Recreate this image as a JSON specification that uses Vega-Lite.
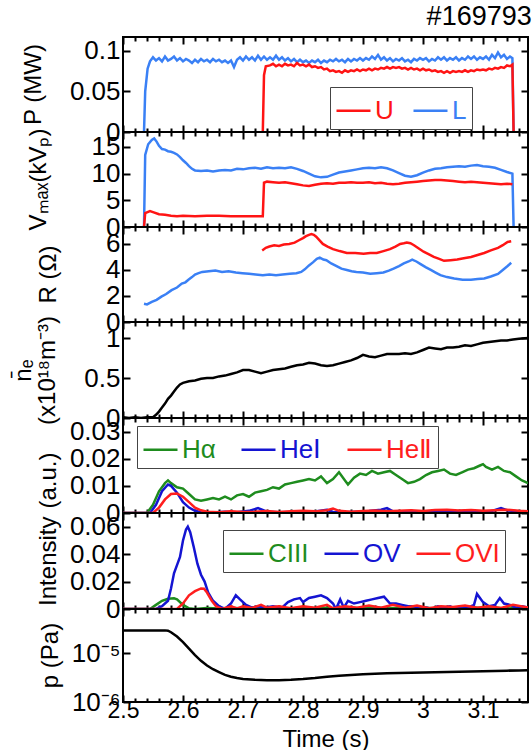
{
  "$schema": "https://vega.github.io/schema/vega-lite/v6.json",
  "background": "white",
  "padding": {"left": 10, "top": 3, "right": 0, "bottom": 3},
  "title": {"text": "#169793", "anchor": "end", "fontSize": 27, "fontWeight": "normal", "font": "Liberation Sans", "color": "black", "offset": 4},
  "config": {
    "view": {"stroke": "black", "strokeWidth": 2},
    "concat": {"spacing": 0},
    "axis": {"domain": false, "grid": false, "tickColor": "black", "tickWidth": 2, "labelFont": "Liberation Sans", "labelFontSize": 26, "labelColor": "black", "titleFont": "Liberation Sans", "titleFontSize": 24, "titleFontWeight": "normal", "titleColor": "black", "labelFlush": false, "labelOverlap": false, "format": "~g"},
    "legend": {"labelFont": "Liberation Sans", "labelFontSize": 26}
  },
  "datasets": {
    "p1": [
      {"t":2.535,"v":0,"s":"L"},{"t":2.537,"v":0.05,"s":"L"},{"t":2.541,"v":0.078,"s":"L"},{"t":2.545,"v":0.087,"s":"L"},{"t":2.55,"v":0.092,"s":"L"},{"t":2.555,"v":0.088,"s":"L"},{"t":2.56,"v":0.091,"s":"L"},{"t":2.565,"v":0.087,"s":"L"},{"t":2.57,"v":0.093,"s":"L"},{"t":2.575,"v":0.088,"s":"L"},{"t":2.58,"v":0.09,"s":"L"},{"t":2.585,"v":0.093,"s":"L"},{"t":2.59,"v":0.088,"s":"L"},{"t":2.595,"v":0.091,"s":"L"},{"t":2.6,"v":0.087,"s":"L"},{"t":2.605,"v":0.09,"s":"L"},{"t":2.61,"v":0.088,"s":"L"},{"t":2.615,"v":0.085,"s":"L"},{"t":2.62,"v":0.089,"s":"L"},{"t":2.625,"v":0.086,"s":"L"},{"t":2.63,"v":0.09,"s":"L"},{"t":2.635,"v":0.087,"s":"L"},{"t":2.64,"v":0.089,"s":"L"},{"t":2.645,"v":0.086,"s":"L"},{"t":2.65,"v":0.09,"s":"L"},{"t":2.655,"v":0.087,"s":"L"},{"t":2.66,"v":0.089,"s":"L"},{"t":2.665,"v":0.086,"s":"L"},{"t":2.67,"v":0.088,"s":"L"},{"t":2.675,"v":0.085,"s":"L"},{"t":2.68,"v":0.088,"s":"L"},{"t":2.685,"v":0.08,"s":"L"},{"t":2.69,"v":0.089,"s":"L"},{"t":2.695,"v":0.092,"s":"L"},{"t":2.7,"v":0.088,"s":"L"},{"t":2.705,"v":0.093,"s":"L"},{"t":2.71,"v":0.089,"s":"L"},{"t":2.715,"v":0.092,"s":"L"},{"t":2.72,"v":0.088,"s":"L"},{"t":2.725,"v":0.094,"s":"L"},{"t":2.73,"v":0.089,"s":"L"},{"t":2.735,"v":0.093,"s":"L"},{"t":2.74,"v":0.089,"s":"L"},{"t":2.745,"v":0.092,"s":"L"},{"t":2.75,"v":0.089,"s":"L"},{"t":2.755,"v":0.094,"s":"L"},{"t":2.76,"v":0.089,"s":"L"},{"t":2.765,"v":0.092,"s":"L"},{"t":2.77,"v":0.088,"s":"L"},{"t":2.775,"v":0.091,"s":"L"},{"t":2.78,"v":0.087,"s":"L"},{"t":2.785,"v":0.09,"s":"L"},{"t":2.79,"v":0.086,"s":"L"},{"t":2.795,"v":0.089,"s":"L"},{"t":2.8,"v":0.086,"s":"L"},{"t":2.805,"v":0.088,"s":"L"},{"t":2.81,"v":0.085,"s":"L"},{"t":2.815,"v":0.088,"s":"L"},{"t":2.82,"v":0.086,"s":"L"},{"t":2.825,"v":0.089,"s":"L"},{"t":2.83,"v":0.085,"s":"L"},{"t":2.835,"v":0.088,"s":"L"},{"t":2.84,"v":0.086,"s":"L"},{"t":2.845,"v":0.089,"s":"L"},{"t":2.85,"v":0.087,"s":"L"},{"t":2.855,"v":0.09,"s":"L"},{"t":2.86,"v":0.087,"s":"L"},{"t":2.865,"v":0.089,"s":"L"},{"t":2.87,"v":0.086,"s":"L"},{"t":2.875,"v":0.09,"s":"L"},{"t":2.88,"v":0.087,"s":"L"},{"t":2.885,"v":0.09,"s":"L"},{"t":2.89,"v":0.088,"s":"L"},{"t":2.895,"v":0.091,"s":"L"},{"t":2.9,"v":0.088,"s":"L"},{"t":2.905,"v":0.091,"s":"L"},{"t":2.91,"v":0.089,"s":"L"},{"t":2.915,"v":0.093,"s":"L"},{"t":2.92,"v":0.09,"s":"L"},{"t":2.925,"v":0.095,"s":"L"},{"t":2.93,"v":0.089,"s":"L"},{"t":2.935,"v":0.092,"s":"L"},{"t":2.94,"v":0.088,"s":"L"},{"t":2.945,"v":0.091,"s":"L"},{"t":2.95,"v":0.087,"s":"L"},{"t":2.955,"v":0.09,"s":"L"},{"t":2.96,"v":0.088,"s":"L"},{"t":2.965,"v":0.091,"s":"L"},{"t":2.97,"v":0.087,"s":"L"},{"t":2.975,"v":0.089,"s":"L"},{"t":2.98,"v":0.086,"s":"L"},{"t":2.985,"v":0.09,"s":"L"},{"t":2.99,"v":0.088,"s":"L"},{"t":2.995,"v":0.091,"s":"L"},{"t":3.0,"v":0.089,"s":"L"},{"t":3.005,"v":0.091,"s":"L"},{"t":3.01,"v":0.087,"s":"L"},{"t":3.015,"v":0.09,"s":"L"},{"t":3.02,"v":0.088,"s":"L"},{"t":3.025,"v":0.092,"s":"L"},{"t":3.03,"v":0.089,"s":"L"},{"t":3.035,"v":0.092,"s":"L"},{"t":3.04,"v":0.088,"s":"L"},{"t":3.045,"v":0.091,"s":"L"},{"t":3.05,"v":0.089,"s":"L"},{"t":3.055,"v":0.092,"s":"L"},{"t":3.06,"v":0.088,"s":"L"},{"t":3.065,"v":0.091,"s":"L"},{"t":3.07,"v":0.089,"s":"L"},{"t":3.075,"v":0.093,"s":"L"},{"t":3.08,"v":0.09,"s":"L"},{"t":3.085,"v":0.093,"s":"L"},{"t":3.09,"v":0.089,"s":"L"},{"t":3.095,"v":0.092,"s":"L"},{"t":3.1,"v":0.09,"s":"L"},{"t":3.105,"v":0.093,"s":"L"},{"t":3.11,"v":0.089,"s":"L"},{"t":3.115,"v":0.095,"s":"L"},{"t":3.12,"v":0.091,"s":"L"},{"t":3.125,"v":0.098,"s":"L"},{"t":3.13,"v":0.092,"s":"L"},{"t":3.135,"v":0.095,"s":"L"},{"t":3.14,"v":0.09,"s":"L"},{"t":3.145,"v":0.093,"s":"L"},{"t":3.149,"v":0.091,"s":"L"},{"t":3.151,"v":0,"s":"L"},
      {"t":2.733,"v":0,"s":"U"},{"t":2.735,"v":0.07,"s":"U"},{"t":2.738,"v":0.081,"s":"U"},{"t":2.745,"v":0.082,"s":"U"},{"t":2.75,"v":0.084,"s":"U"},{"t":2.755,"v":0.081,"s":"U"},{"t":2.76,"v":0.083,"s":"U"},{"t":2.765,"v":0.081,"s":"U"},{"t":2.77,"v":0.084,"s":"U"},{"t":2.775,"v":0.082,"s":"U"},{"t":2.78,"v":0.083,"s":"U"},{"t":2.785,"v":0.081,"s":"U"},{"t":2.79,"v":0.085,"s":"U"},{"t":2.795,"v":0.082,"s":"U"},{"t":2.8,"v":0.083,"s":"U"},{"t":2.805,"v":0.081,"s":"U"},{"t":2.81,"v":0.083,"s":"U"},{"t":2.815,"v":0.08,"s":"U"},{"t":2.82,"v":0.081,"s":"U"},{"t":2.825,"v":0.079,"s":"U"},{"t":2.83,"v":0.08,"s":"U"},{"t":2.835,"v":0.077,"s":"U"},{"t":2.84,"v":0.078,"s":"U"},{"t":2.845,"v":0.075,"s":"U"},{"t":2.85,"v":0.076,"s":"U"},{"t":2.855,"v":0.074,"s":"U"},{"t":2.86,"v":0.075,"s":"U"},{"t":2.865,"v":0.073,"s":"U"},{"t":2.87,"v":0.076,"s":"U"},{"t":2.875,"v":0.074,"s":"U"},{"t":2.88,"v":0.076,"s":"U"},{"t":2.885,"v":0.075,"s":"U"},{"t":2.89,"v":0.077,"s":"U"},{"t":2.895,"v":0.075,"s":"U"},{"t":2.9,"v":0.077,"s":"U"},{"t":2.905,"v":0.076,"s":"U"},{"t":2.91,"v":0.078,"s":"U"},{"t":2.915,"v":0.076,"s":"U"},{"t":2.92,"v":0.078,"s":"U"},{"t":2.925,"v":0.077,"s":"U"},{"t":2.93,"v":0.079,"s":"U"},{"t":2.935,"v":0.078,"s":"U"},{"t":2.94,"v":0.08,"s":"U"},{"t":2.945,"v":0.078,"s":"U"},{"t":2.95,"v":0.08,"s":"U"},{"t":2.955,"v":0.079,"s":"U"},{"t":2.96,"v":0.08,"s":"U"},{"t":2.965,"v":0.078,"s":"U"},{"t":2.97,"v":0.079,"s":"U"},{"t":2.975,"v":0.077,"s":"U"},{"t":2.98,"v":0.079,"s":"U"},{"t":2.985,"v":0.077,"s":"U"},{"t":2.99,"v":0.078,"s":"U"},{"t":2.995,"v":0.076,"s":"U"},{"t":3.0,"v":0.078,"s":"U"},{"t":3.005,"v":0.076,"s":"U"},{"t":3.01,"v":0.077,"s":"U"},{"t":3.015,"v":0.075,"s":"U"},{"t":3.02,"v":0.076,"s":"U"},{"t":3.025,"v":0.074,"s":"U"},{"t":3.03,"v":0.075,"s":"U"},{"t":3.035,"v":0.073,"s":"U"},{"t":3.04,"v":0.075,"s":"U"},{"t":3.045,"v":0.073,"s":"U"},{"t":3.05,"v":0.075,"s":"U"},{"t":3.055,"v":0.074,"s":"U"},{"t":3.06,"v":0.075,"s":"U"},{"t":3.065,"v":0.074,"s":"U"},{"t":3.07,"v":0.076,"s":"U"},{"t":3.075,"v":0.074,"s":"U"},{"t":3.08,"v":0.076,"s":"U"},{"t":3.085,"v":0.075,"s":"U"},{"t":3.09,"v":0.077,"s":"U"},{"t":3.095,"v":0.076,"s":"U"},{"t":3.1,"v":0.077,"s":"U"},{"t":3.105,"v":0.076,"s":"U"},{"t":3.11,"v":0.078,"s":"U"},{"t":3.115,"v":0.077,"s":"U"},{"t":3.12,"v":0.079,"s":"U"},{"t":3.125,"v":0.078,"s":"U"},{"t":3.13,"v":0.08,"s":"U"},{"t":3.135,"v":0.079,"s":"U"},{"t":3.14,"v":0.082,"s":"U"},{"t":3.145,"v":0.081,"s":"U"},{"t":3.149,"v":0.083,"s":"U"},{"t":3.151,"v":0,"s":"U"}
    ],
    "p2": [
      {"t":2.535,"v":0,"s":"L"},{"t":2.537,"v":13.5,"s":"L"},{"t":2.542,"v":15.5,"s":"L"},{"t":2.548,"v":16.3,"s":"L"},{"t":2.552,"v":16.6,"s":"L"},{"t":2.556,"v":16,"s":"L"},{"t":2.56,"v":15.2,"s":"L"},{"t":2.565,"v":14.6,"s":"L"},{"t":2.57,"v":14.5,"s":"L"},{"t":2.575,"v":14.2,"s":"L"},{"t":2.58,"v":14.1,"s":"L"},{"t":2.585,"v":13.9,"s":"L"},{"t":2.59,"v":13.6,"s":"L"},{"t":2.595,"v":13.1,"s":"L"},{"t":2.6,"v":12.5,"s":"L"},{"t":2.605,"v":12,"s":"L"},{"t":2.61,"v":11.4,"s":"L"},{"t":2.615,"v":10.9,"s":"L"},{"t":2.62,"v":10.6,"s":"L"},{"t":2.63,"v":10.5,"s":"L"},{"t":2.64,"v":10.6,"s":"L"},{"t":2.65,"v":10.4,"s":"L"},{"t":2.66,"v":10.6,"s":"L"},{"t":2.67,"v":10.7,"s":"L"},{"t":2.68,"v":10.6,"s":"L"},{"t":2.69,"v":10.9,"s":"L"},{"t":2.7,"v":10.8,"s":"L"},{"t":2.71,"v":11,"s":"L"},{"t":2.72,"v":11.1,"s":"L"},{"t":2.73,"v":10.9,"s":"L"},{"t":2.74,"v":11.2,"s":"L"},{"t":2.75,"v":11,"s":"L"},{"t":2.76,"v":11.1,"s":"L"},{"t":2.77,"v":11,"s":"L"},{"t":2.78,"v":11.2,"s":"L"},{"t":2.79,"v":10.9,"s":"L"},{"t":2.8,"v":10.5,"s":"L"},{"t":2.81,"v":10,"s":"L"},{"t":2.82,"v":9.5,"s":"L"},{"t":2.83,"v":9.3,"s":"L"},{"t":2.84,"v":9.4,"s":"L"},{"t":2.85,"v":9.8,"s":"L"},{"t":2.86,"v":10.2,"s":"L"},{"t":2.87,"v":10.4,"s":"L"},{"t":2.88,"v":10.6,"s":"L"},{"t":2.89,"v":10.8,"s":"L"},{"t":2.9,"v":11,"s":"L"},{"t":2.91,"v":11.1,"s":"L"},{"t":2.92,"v":11,"s":"L"},{"t":2.93,"v":11.2,"s":"L"},{"t":2.94,"v":11,"s":"L"},{"t":2.95,"v":10.6,"s":"L"},{"t":2.96,"v":10.1,"s":"L"},{"t":2.97,"v":9.6,"s":"L"},{"t":2.98,"v":9.4,"s":"L"},{"t":2.99,"v":9.7,"s":"L"},{"t":3.0,"v":10.2,"s":"L"},{"t":3.01,"v":10.6,"s":"L"},{"t":3.02,"v":10.9,"s":"L"},{"t":3.03,"v":11,"s":"L"},{"t":3.04,"v":11.2,"s":"L"},{"t":3.05,"v":11.3,"s":"L"},{"t":3.06,"v":11.4,"s":"L"},{"t":3.07,"v":11.3,"s":"L"},{"t":3.08,"v":11.5,"s":"L"},{"t":3.09,"v":11.6,"s":"L"},{"t":3.1,"v":11.4,"s":"L"},{"t":3.11,"v":11.3,"s":"L"},{"t":3.12,"v":11.1,"s":"L"},{"t":3.13,"v":10.7,"s":"L"},{"t":3.14,"v":10.3,"s":"L"},{"t":3.149,"v":10,"s":"L"},{"t":3.151,"v":0,"s":"L"},
      {"t":2.535,"v":0,"s":"U"},{"t":2.537,"v":2.6,"s":"U"},{"t":2.545,"v":3,"s":"U"},{"t":2.55,"v":2.8,"s":"U"},{"t":2.56,"v":2.4,"s":"U"},{"t":2.57,"v":2.3,"s":"U"},{"t":2.58,"v":2.1,"s":"U"},{"t":2.59,"v":2.0,"s":"U"},{"t":2.6,"v":2.1,"s":"U"},{"t":2.62,"v":2.0,"s":"U"},{"t":2.64,"v":2.1,"s":"U"},{"t":2.66,"v":2.1,"s":"U"},{"t":2.68,"v":2.0,"s":"U"},{"t":2.7,"v":2.0,"s":"U"},{"t":2.72,"v":2.0,"s":"U"},{"t":2.733,"v":2.0,"s":"U"},{"t":2.735,"v":8.3,"s":"U"},{"t":2.74,"v":8.5,"s":"U"},{"t":2.75,"v":8.4,"s":"U"},{"t":2.76,"v":8.3,"s":"U"},{"t":2.77,"v":8.4,"s":"U"},{"t":2.78,"v":8.2,"s":"U"},{"t":2.79,"v":8.0,"s":"U"},{"t":2.8,"v":7.8,"s":"U"},{"t":2.81,"v":7.7,"s":"U"},{"t":2.82,"v":7.9,"s":"U"},{"t":2.83,"v":8.1,"s":"U"},{"t":2.84,"v":8.2,"s":"U"},{"t":2.85,"v":8.1,"s":"U"},{"t":2.86,"v":8.3,"s":"U"},{"t":2.87,"v":8.3,"s":"U"},{"t":2.88,"v":8.4,"s":"U"},{"t":2.89,"v":8.3,"s":"U"},{"t":2.9,"v":8.3,"s":"U"},{"t":2.91,"v":8.4,"s":"U"},{"t":2.92,"v":8.2,"s":"U"},{"t":2.93,"v":8.3,"s":"U"},{"t":2.94,"v":8.1,"s":"U"},{"t":2.95,"v":8.0,"s":"U"},{"t":2.96,"v":8.1,"s":"U"},{"t":2.97,"v":8.3,"s":"U"},{"t":2.98,"v":8.4,"s":"U"},{"t":2.99,"v":8.5,"s":"U"},{"t":3.0,"v":8.6,"s":"U"},{"t":3.01,"v":8.7,"s":"U"},{"t":3.02,"v":8.8,"s":"U"},{"t":3.03,"v":8.8,"s":"U"},{"t":3.04,"v":8.7,"s":"U"},{"t":3.05,"v":8.6,"s":"U"},{"t":3.06,"v":8.5,"s":"U"},{"t":3.07,"v":8.4,"s":"U"},{"t":3.08,"v":8.5,"s":"U"},{"t":3.09,"v":8.4,"s":"U"},{"t":3.1,"v":8.3,"s":"U"},{"t":3.11,"v":8.2,"s":"U"},{"t":3.12,"v":8.1,"s":"U"},{"t":3.13,"v":8.0,"s":"U"},{"t":3.14,"v":8.1,"s":"U"},{"t":3.149,"v":8.0,"s":"U"}
    ],
    "p3": [
      {"t":2.535,"v":1.4,"s":"L"},{"t":2.54,"v":1.35,"s":"L"},{"t":2.548,"v":1.55,"s":"L"},{"t":2.556,"v":1.7,"s":"L"},{"t":2.564,"v":1.95,"s":"L"},{"t":2.572,"v":2.15,"s":"L"},{"t":2.581,"v":2.45,"s":"L"},{"t":2.59,"v":2.65,"s":"L"},{"t":2.598,"v":2.95,"s":"L"},{"t":2.604,"v":3.05,"s":"L"},{"t":2.609,"v":3.25,"s":"L"},{"t":2.615,"v":3.45,"s":"L"},{"t":2.62,"v":3.65,"s":"L"},{"t":2.626,"v":3.75,"s":"L"},{"t":2.632,"v":3.85,"s":"L"},{"t":2.643,"v":3.9,"s":"L"},{"t":2.654,"v":3.95,"s":"L"},{"t":2.665,"v":3.85,"s":"L"},{"t":2.676,"v":3.9,"s":"L"},{"t":2.688,"v":3.8,"s":"L"},{"t":2.699,"v":3.75,"s":"L"},{"t":2.71,"v":3.7,"s":"L"},{"t":2.721,"v":3.65,"s":"L"},{"t":2.733,"v":3.6,"s":"L"},{"t":2.744,"v":3.65,"s":"L"},{"t":2.755,"v":3.6,"s":"L"},{"t":2.766,"v":3.65,"s":"L"},{"t":2.778,"v":3.7,"s":"L"},{"t":2.789,"v":3.75,"s":"L"},{"t":2.797,"v":3.85,"s":"L"},{"t":2.803,"v":4.05,"s":"L"},{"t":2.81,"v":4.35,"s":"L"},{"t":2.817,"v":4.6,"s":"L"},{"t":2.823,"v":4.85,"s":"L"},{"t":2.828,"v":4.95,"s":"L"},{"t":2.834,"v":4.8,"s":"L"},{"t":2.839,"v":4.75,"s":"L"},{"t":2.847,"v":4.5,"s":"L"},{"t":2.856,"v":4.3,"s":"L"},{"t":2.864,"v":4.1,"s":"L"},{"t":2.873,"v":4.0,"s":"L"},{"t":2.881,"v":3.9,"s":"L"},{"t":2.889,"v":3.85,"s":"L"},{"t":2.9,"v":3.8,"s":"L"},{"t":2.912,"v":3.7,"s":"L"},{"t":2.923,"v":3.75,"s":"L"},{"t":2.934,"v":3.8,"s":"L"},{"t":2.943,"v":3.95,"s":"L"},{"t":2.951,"v":4.1,"s":"L"},{"t":2.96,"v":4.3,"s":"L"},{"t":2.968,"v":4.5,"s":"L"},{"t":2.976,"v":4.65,"s":"L"},{"t":2.982,"v":4.8,"s":"L"},{"t":2.989,"v":4.65,"s":"L"},{"t":2.996,"v":4.45,"s":"L"},{"t":3.005,"v":4.2,"s":"L"},{"t":3.013,"v":4.0,"s":"L"},{"t":3.021,"v":3.8,"s":"L"},{"t":3.029,"v":3.6,"s":"L"},{"t":3.04,"v":3.45,"s":"L"},{"t":3.052,"v":3.35,"s":"L"},{"t":3.066,"v":3.25,"s":"L"},{"t":3.08,"v":3.25,"s":"L"},{"t":3.091,"v":3.3,"s":"L"},{"t":3.102,"v":3.35,"s":"L"},{"t":3.113,"v":3.5,"s":"L"},{"t":3.125,"v":3.7,"s":"L"},{"t":3.133,"v":4.0,"s":"L"},{"t":3.141,"v":4.3,"s":"L"},{"t":3.147,"v":4.55,"s":"L"},
      {"t":2.732,"v":5.5,"s":"U"},{"t":2.738,"v":5.7,"s":"U"},{"t":2.744,"v":5.8,"s":"U"},{"t":2.752,"v":5.9,"s":"U"},{"t":2.76,"v":5.85,"s":"U"},{"t":2.768,"v":5.95,"s":"U"},{"t":2.777,"v":6.0,"s":"U"},{"t":2.786,"v":6.1,"s":"U"},{"t":2.794,"v":6.3,"s":"U"},{"t":2.8,"v":6.45,"s":"U"},{"t":2.805,"v":6.6,"s":"U"},{"t":2.81,"v":6.7,"s":"U"},{"t":2.814,"v":6.75,"s":"U"},{"t":2.818,"v":6.7,"s":"U"},{"t":2.822,"v":6.55,"s":"U"},{"t":2.828,"v":6.25,"s":"U"},{"t":2.833,"v":6.0,"s":"U"},{"t":2.841,"v":5.8,"s":"U"},{"t":2.85,"v":5.6,"s":"U"},{"t":2.861,"v":5.45,"s":"U"},{"t":2.873,"v":5.3,"s":"U"},{"t":2.887,"v":5.3,"s":"U"},{"t":2.901,"v":5.25,"s":"U"},{"t":2.912,"v":5.3,"s":"U"},{"t":2.923,"v":5.3,"s":"U"},{"t":2.934,"v":5.45,"s":"U"},{"t":2.945,"v":5.6,"s":"U"},{"t":2.954,"v":5.8,"s":"U"},{"t":2.962,"v":6.0,"s":"U"},{"t":2.968,"v":6.05,"s":"U"},{"t":2.973,"v":6.1,"s":"U"},{"t":2.979,"v":6.05,"s":"U"},{"t":2.985,"v":5.9,"s":"U"},{"t":2.993,"v":5.65,"s":"U"},{"t":3.001,"v":5.4,"s":"U"},{"t":3.01,"v":5.2,"s":"U"},{"t":3.018,"v":5.0,"s":"U"},{"t":3.027,"v":4.85,"s":"U"},{"t":3.035,"v":4.7,"s":"U"},{"t":3.046,"v":4.75,"s":"U"},{"t":3.057,"v":4.8,"s":"U"},{"t":3.068,"v":4.9,"s":"U"},{"t":3.08,"v":5.0,"s":"U"},{"t":3.091,"v":5.15,"s":"U"},{"t":3.102,"v":5.3,"s":"U"},{"t":3.113,"v":5.5,"s":"U"},{"t":3.125,"v":5.7,"s":"U"},{"t":3.133,"v":5.9,"s":"U"},{"t":3.141,"v":6.15,"s":"U"},{"t":3.147,"v":6.2,"s":"U"}
    ],
    "p4": [
      {"t":2.5,"v":0.01,"s":"ne"},{"t":2.51,"v":0.0,"s":"ne"},{"t":2.52,"v":0.01,"s":"ne"},{"t":2.53,"v":0.0,"s":"ne"},{"t":2.54,"v":0.01,"s":"ne"},{"t":2.55,"v":0.01,"s":"ne"},{"t":2.555,"v":0.04,"s":"ne"},{"t":2.56,"v":0.08,"s":"ne"},{"t":2.565,"v":0.13,"s":"ne"},{"t":2.57,"v":0.18,"s":"ne"},{"t":2.575,"v":0.24,"s":"ne"},{"t":2.58,"v":0.28,"s":"ne"},{"t":2.585,"v":0.33,"s":"ne"},{"t":2.59,"v":0.38,"s":"ne"},{"t":2.595,"v":0.42,"s":"ne"},{"t":2.6,"v":0.44,"s":"ne"},{"t":2.61,"v":0.46,"s":"ne"},{"t":2.62,"v":0.47,"s":"ne"},{"t":2.63,"v":0.49,"s":"ne"},{"t":2.64,"v":0.5,"s":"ne"},{"t":2.65,"v":0.5,"s":"ne"},{"t":2.66,"v":0.52,"s":"ne"},{"t":2.67,"v":0.53,"s":"ne"},{"t":2.68,"v":0.55,"s":"ne"},{"t":2.69,"v":0.57,"s":"ne"},{"t":2.7,"v":0.6,"s":"ne"},{"t":2.71,"v":0.6,"s":"ne"},{"t":2.72,"v":0.58,"s":"ne"},{"t":2.73,"v":0.56,"s":"ne"},{"t":2.74,"v":0.58,"s":"ne"},{"t":2.75,"v":0.6,"s":"ne"},{"t":2.76,"v":0.61,"s":"ne"},{"t":2.77,"v":0.62,"s":"ne"},{"t":2.78,"v":0.64,"s":"ne"},{"t":2.79,"v":0.66,"s":"ne"},{"t":2.8,"v":0.67,"s":"ne"},{"t":2.81,"v":0.69,"s":"ne"},{"t":2.82,"v":0.68,"s":"ne"},{"t":2.83,"v":0.66,"s":"ne"},{"t":2.84,"v":0.65,"s":"ne"},{"t":2.85,"v":0.66,"s":"ne"},{"t":2.86,"v":0.68,"s":"ne"},{"t":2.87,"v":0.7,"s":"ne"},{"t":2.88,"v":0.72,"s":"ne"},{"t":2.89,"v":0.75,"s":"ne"},{"t":2.9,"v":0.79,"s":"ne"},{"t":2.91,"v":0.77,"s":"ne"},{"t":2.92,"v":0.76,"s":"ne"},{"t":2.93,"v":0.78,"s":"ne"},{"t":2.94,"v":0.8,"s":"ne"},{"t":2.95,"v":0.8,"s":"ne"},{"t":2.96,"v":0.8,"s":"ne"},{"t":2.97,"v":0.81,"s":"ne"},{"t":2.98,"v":0.8,"s":"ne"},{"t":2.99,"v":0.82,"s":"ne"},{"t":3.0,"v":0.85,"s":"ne"},{"t":3.01,"v":0.88,"s":"ne"},{"t":3.02,"v":0.87,"s":"ne"},{"t":3.03,"v":0.86,"s":"ne"},{"t":3.04,"v":0.88,"s":"ne"},{"t":3.05,"v":0.88,"s":"ne"},{"t":3.06,"v":0.89,"s":"ne"},{"t":3.07,"v":0.91,"s":"ne"},{"t":3.08,"v":0.9,"s":"ne"},{"t":3.09,"v":0.92,"s":"ne"},{"t":3.1,"v":0.94,"s":"ne"},{"t":3.11,"v":0.95,"s":"ne"},{"t":3.12,"v":0.96,"s":"ne"},{"t":3.13,"v":0.97,"s":"ne"},{"t":3.14,"v":0.97,"s":"ne"},{"t":3.15,"v":0.98,"s":"ne"},{"t":3.16,"v":0.99,"s":"ne"},{"t":3.175,"v":1.0,"s":"ne"}
    ],
    "p5": [
      {"t":2.5,"v":0,"s":"Hα"},{"t":2.54,"v":0,"s":"Hα"},{"t":2.55,"v":0.003,"s":"Hα"},{"t":2.56,"v":0.008,"s":"Hα"},{"t":2.57,"v":0.011,"s":"Hα"},{"t":2.575,"v":0.012,"s":"Hα"},{"t":2.58,"v":0.011,"s":"Hα"},{"t":2.59,"v":0.0095,"s":"Hα"},{"t":2.6,"v":0.009,"s":"Hα"},{"t":2.61,"v":0.007,"s":"Hα"},{"t":2.62,"v":0.005,"s":"Hα"},{"t":2.63,"v":0.0045,"s":"Hα"},{"t":2.64,"v":0.005,"s":"Hα"},{"t":2.65,"v":0.0055,"s":"Hα"},{"t":2.66,"v":0.005,"s":"Hα"},{"t":2.67,"v":0.006,"s":"Hα"},{"t":2.68,"v":0.005,"s":"Hα"},{"t":2.69,"v":0.0065,"s":"Hα"},{"t":2.7,"v":0.007,"s":"Hα"},{"t":2.71,"v":0.006,"s":"Hα"},{"t":2.72,"v":0.0075,"s":"Hα"},{"t":2.73,"v":0.008,"s":"Hα"},{"t":2.74,"v":0.0085,"s":"Hα"},{"t":2.75,"v":0.0095,"s":"Hα"},{"t":2.76,"v":0.009,"s":"Hα"},{"t":2.77,"v":0.0105,"s":"Hα"},{"t":2.78,"v":0.011,"s":"Hα"},{"t":2.79,"v":0.0115,"s":"Hα"},{"t":2.8,"v":0.012,"s":"Hα"},{"t":2.81,"v":0.0125,"s":"Hα"},{"t":2.82,"v":0.012,"s":"Hα"},{"t":2.83,"v":0.0135,"s":"Hα"},{"t":2.84,"v":0.011,"s":"Hα"},{"t":2.85,"v":0.0125,"s":"Hα"},{"t":2.86,"v":0.015,"s":"Hα"},{"t":2.87,"v":0.012,"s":"Hα"},{"t":2.875,"v":0.0105,"s":"Hα"},{"t":2.885,"v":0.013,"s":"Hα"},{"t":2.895,"v":0.0145,"s":"Hα"},{"t":2.905,"v":0.014,"s":"Hα"},{"t":2.915,"v":0.0155,"s":"Hα"},{"t":2.925,"v":0.0145,"s":"Hα"},{"t":2.935,"v":0.015,"s":"Hα"},{"t":2.945,"v":0.0155,"s":"Hα"},{"t":2.955,"v":0.014,"s":"Hα"},{"t":2.965,"v":0.0125,"s":"Hα"},{"t":2.975,"v":0.011,"s":"Hα"},{"t":2.985,"v":0.0115,"s":"Hα"},{"t":2.995,"v":0.0125,"s":"Hα"},{"t":3.005,"v":0.014,"s":"Hα"},{"t":3.015,"v":0.015,"s":"Hα"},{"t":3.025,"v":0.0155,"s":"Hα"},{"t":3.035,"v":0.016,"s":"Hα"},{"t":3.045,"v":0.0145,"s":"Hα"},{"t":3.055,"v":0.014,"s":"Hα"},{"t":3.065,"v":0.015,"s":"Hα"},{"t":3.075,"v":0.016,"s":"Hα"},{"t":3.085,"v":0.0165,"s":"Hα"},{"t":3.095,"v":0.0175,"s":"Hα"},{"t":3.1,"v":0.018,"s":"Hα"},{"t":3.105,"v":0.017,"s":"Hα"},{"t":3.115,"v":0.016,"s":"Hα"},{"t":3.125,"v":0.017,"s":"Hα"},{"t":3.135,"v":0.0155,"s":"Hα"},{"t":3.145,"v":0.015,"s":"Hα"},{"t":3.155,"v":0.0135,"s":"Hα"},{"t":3.165,"v":0.012,"s":"Hα"},{"t":3.175,"v":0.011,"s":"Hα"},
      {"t":2.5,"v":0,"s":"HeⅠ"},{"t":2.545,"v":0,"s":"HeⅠ"},{"t":2.555,"v":0.003,"s":"HeⅠ"},{"t":2.565,"v":0.008,"s":"HeⅠ"},{"t":2.575,"v":0.0105,"s":"HeⅠ"},{"t":2.58,"v":0.01,"s":"HeⅠ"},{"t":2.59,"v":0.0075,"s":"HeⅠ"},{"t":2.6,"v":0.004,"s":"HeⅠ"},{"t":2.61,"v":0.002,"s":"HeⅠ"},{"t":2.62,"v":0.0008,"s":"HeⅠ"},{"t":2.63,"v":0.0003,"s":"HeⅠ"},{"t":2.65,"v":0.0002,"s":"HeⅠ"},{"t":2.67,"v":0.0005,"s":"HeⅠ"},{"t":2.69,"v":0.0003,"s":"HeⅠ"},{"t":2.71,"v":0.0008,"s":"HeⅠ"},{"t":2.725,"v":0.0018,"s":"HeⅠ"},{"t":2.74,"v":0.0005,"s":"HeⅠ"},{"t":2.76,"v":0.0003,"s":"HeⅠ"},{"t":2.78,"v":0.0004,"s":"HeⅠ"},{"t":2.8,"v":0.0002,"s":"HeⅠ"},{"t":2.82,"v":0.0006,"s":"HeⅠ"},{"t":2.84,"v":0.0012,"s":"HeⅠ"},{"t":2.85,"v":0.0004,"s":"HeⅠ"},{"t":2.87,"v":0.0003,"s":"HeⅠ"},{"t":2.89,"v":0.0005,"s":"HeⅠ"},{"t":2.91,"v":0.0007,"s":"HeⅠ"},{"t":2.93,"v":0.0012,"s":"HeⅠ"},{"t":2.94,"v":0.0018,"s":"HeⅠ"},{"t":2.95,"v":0.0006,"s":"HeⅠ"},{"t":2.97,"v":0.0003,"s":"HeⅠ"},{"t":2.99,"v":0.0005,"s":"HeⅠ"},{"t":3.01,"v":0.0004,"s":"HeⅠ"},{"t":3.03,"v":0.0007,"s":"HeⅠ"},{"t":3.05,"v":0.0005,"s":"HeⅠ"},{"t":3.07,"v":0.0008,"s":"HeⅠ"},{"t":3.09,"v":0.0006,"s":"HeⅠ"},{"t":3.11,"v":0.0004,"s":"HeⅠ"},{"t":3.13,"v":0.0018,"s":"HeⅠ"},{"t":3.14,"v":0.001,"s":"HeⅠ"},{"t":3.16,"v":0.0006,"s":"HeⅠ"},{"t":3.175,"v":0.0004,"s":"HeⅠ"},
      {"t":2.5,"v":0,"s":"HeⅡ"},{"t":2.55,"v":0,"s":"HeⅡ"},{"t":2.56,"v":0.002,"s":"HeⅡ"},{"t":2.57,"v":0.005,"s":"HeⅡ"},{"t":2.58,"v":0.007,"s":"HeⅡ"},{"t":2.59,"v":0.0072,"s":"HeⅡ"},{"t":2.6,"v":0.006,"s":"HeⅡ"},{"t":2.61,"v":0.004,"s":"HeⅡ"},{"t":2.62,"v":0.002,"s":"HeⅡ"},{"t":2.63,"v":0.001,"s":"HeⅡ"},{"t":2.64,"v":0.0005,"s":"HeⅡ"},{"t":2.66,"v":0.0003,"s":"HeⅡ"},{"t":2.68,"v":0.0006,"s":"HeⅡ"},{"t":2.7,"v":0.0004,"s":"HeⅡ"},{"t":2.72,"v":0.0005,"s":"HeⅡ"},{"t":2.74,"v":0.0007,"s":"HeⅡ"},{"t":2.76,"v":0.0004,"s":"HeⅡ"},{"t":2.78,"v":0.0006,"s":"HeⅡ"},{"t":2.8,"v":0.0008,"s":"HeⅡ"},{"t":2.82,"v":0.0006,"s":"HeⅡ"},{"t":2.84,"v":0.001,"s":"HeⅡ"},{"t":2.85,"v":0.0016,"s":"HeⅡ"},{"t":2.86,"v":0.0008,"s":"HeⅡ"},{"t":2.88,"v":0.0005,"s":"HeⅡ"},{"t":2.9,"v":0.0007,"s":"HeⅡ"},{"t":2.92,"v":0.0009,"s":"HeⅡ"},{"t":2.94,"v":0.0006,"s":"HeⅡ"},{"t":2.96,"v":0.0008,"s":"HeⅡ"},{"t":2.98,"v":0.001,"s":"HeⅡ"},{"t":3.0,"v":0.0007,"s":"HeⅡ"},{"t":3.02,"v":0.0011,"s":"HeⅡ"},{"t":3.04,"v":0.0012,"s":"HeⅡ"},{"t":3.06,"v":0.0009,"s":"HeⅡ"},{"t":3.08,"v":0.0011,"s":"HeⅡ"},{"t":3.1,"v":0.0008,"s":"HeⅡ"},{"t":3.12,"v":0.001,"s":"HeⅡ"},{"t":3.14,"v":0.0012,"s":"HeⅡ"},{"t":3.16,"v":0.0008,"s":"HeⅡ"},{"t":3.175,"v":0.0006,"s":"HeⅡ"}
    ],
    "p6": [
      {"t":2.5,"v":0,"s":"CIII"},{"t":2.545,"v":0,"s":"CIII"},{"t":2.555,"v":0.003,"s":"CIII"},{"t":2.565,"v":0.006,"s":"CIII"},{"t":2.575,"v":0.0075,"s":"CIII"},{"t":2.585,"v":0.0078,"s":"CIII"},{"t":2.59,"v":0.007,"s":"CIII"},{"t":2.6,"v":0.003,"s":"CIII"},{"t":2.61,"v":0.0005,"s":"CIII"},{"t":2.62,"v":0,"s":"CIII"},{"t":2.64,"v":0.0008,"s":"CIII"},{"t":2.66,"v":0.0003,"s":"CIII"},{"t":2.68,"v":0.001,"s":"CIII"},{"t":2.7,"v":0.0004,"s":"CIII"},{"t":2.72,"v":0.0012,"s":"CIII"},{"t":2.74,"v":0.0005,"s":"CIII"},{"t":2.76,"v":0.0008,"s":"CIII"},{"t":2.78,"v":0.0003,"s":"CIII"},{"t":2.8,"v":0.0012,"s":"CIII"},{"t":2.82,"v":0.0005,"s":"CIII"},{"t":2.84,"v":0.0009,"s":"CIII"},{"t":2.86,"v":0.0004,"s":"CIII"},{"t":2.88,"v":0.001,"s":"CIII"},{"t":2.9,"v":0.0006,"s":"CIII"},{"t":2.92,"v":0.0012,"s":"CIII"},{"t":2.94,"v":0.0004,"s":"CIII"},{"t":2.96,"v":0.0009,"s":"CIII"},{"t":2.98,"v":0.0005,"s":"CIII"},{"t":3.0,"v":0.0011,"s":"CIII"},{"t":3.02,"v":0.0004,"s":"CIII"},{"t":3.04,"v":0.0008,"s":"CIII"},{"t":3.06,"v":0.0005,"s":"CIII"},{"t":3.08,"v":0.0012,"s":"CIII"},{"t":3.1,"v":0.0006,"s":"CIII"},{"t":3.12,"v":0.0009,"s":"CIII"},{"t":3.14,"v":0.0004,"s":"CIII"},{"t":3.16,"v":0.001,"s":"CIII"},{"t":3.175,"v":0.0006,"s":"CIII"},
      {"t":2.5,"v":0,"s":"OV"},{"t":2.555,"v":0,"s":"OV"},{"t":2.565,"v":0.002,"s":"OV"},{"t":2.575,"v":0.006,"s":"OV"},{"t":2.58,"v":0.015,"s":"OV"},{"t":2.585,"v":0.026,"s":"OV"},{"t":2.59,"v":0.032,"s":"OV"},{"t":2.595,"v":0.038,"s":"OV"},{"t":2.6,"v":0.05,"s":"OV"},{"t":2.605,"v":0.058,"s":"OV"},{"t":2.608,"v":0.06,"s":"OV"},{"t":2.612,"v":0.056,"s":"OV"},{"t":2.618,"v":0.045,"s":"OV"},{"t":2.624,"v":0.033,"s":"OV"},{"t":2.63,"v":0.025,"s":"OV"},{"t":2.636,"v":0.02,"s":"OV"},{"t":2.642,"v":0.012,"s":"OV"},{"t":2.65,"v":0.006,"s":"OV"},{"t":2.66,"v":0.002,"s":"OV"},{"t":2.67,"v":0.0,"s":"OV"},{"t":2.68,"v":0.004,"s":"OV"},{"t":2.688,"v":0.01,"s":"OV"},{"t":2.695,"v":0.007,"s":"OV"},{"t":2.705,"v":0.003,"s":"OV"},{"t":2.715,"v":0.001,"s":"OV"},{"t":2.725,"v":0.002,"s":"OV"},{"t":2.735,"v":0.001,"s":"OV"},{"t":2.75,"v":0.002,"s":"OV"},{"t":2.765,"v":0.001,"s":"OV"},{"t":2.775,"v":0.005,"s":"OV"},{"t":2.785,"v":0.007,"s":"OV"},{"t":2.795,"v":0.008,"s":"OV"},{"t":2.8,"v":0.005,"s":"OV"},{"t":2.81,"v":0.008,"s":"OV"},{"t":2.82,"v":0.009,"s":"OV"},{"t":2.83,"v":0.01,"s":"OV"},{"t":2.84,"v":0.008,"s":"OV"},{"t":2.85,"v":0.004,"s":"OV"},{"t":2.855,"v":0.0,"s":"OV"},{"t":2.862,"v":0.007,"s":"OV"},{"t":2.868,"v":0.001,"s":"OV"},{"t":2.875,"v":0.006,"s":"OV"},{"t":2.885,"v":0.004,"s":"OV"},{"t":2.895,"v":0.005,"s":"OV"},{"t":2.905,"v":0.006,"s":"OV"},{"t":2.915,"v":0.007,"s":"OV"},{"t":2.925,"v":0.008,"s":"OV"},{"t":2.935,"v":0.009,"s":"OV"},{"t":2.945,"v":0.004,"s":"OV"},{"t":2.955,"v":0.004,"s":"OV"},{"t":2.965,"v":0.003,"s":"OV"},{"t":2.975,"v":0.002,"s":"OV"},{"t":2.985,"v":0.002,"s":"OV"},{"t":2.995,"v":0.0,"s":"OV"},{"t":3.005,"v":0.001,"s":"OV"},{"t":3.015,"v":0.0,"s":"OV"},{"t":3.025,"v":0.002,"s":"OV"},{"t":3.035,"v":0.001,"s":"OV"},{"t":3.045,"v":0.002,"s":"OV"},{"t":3.055,"v":0.0,"s":"OV"},{"t":3.065,"v":0.002,"s":"OV"},{"t":3.075,"v":0.001,"s":"OV"},{"t":3.085,"v":0.003,"s":"OV"},{"t":3.09,"v":0.011,"s":"OV"},{"t":3.1,"v":0.005,"s":"OV"},{"t":3.11,"v":0.002,"s":"OV"},{"t":3.12,"v":0.003,"s":"OV"},{"t":3.128,"v":0.008,"s":"OV"},{"t":3.135,"v":0.004,"s":"OV"},{"t":3.145,"v":0.003,"s":"OV"},{"t":3.155,"v":0.001,"s":"OV"},{"t":3.165,"v":0.002,"s":"OV"},{"t":3.175,"v":0.001,"s":"OV"},
      {"t":2.5,"v":0,"s":"OVI"},{"t":2.59,"v":0,"s":"OVI"},{"t":2.6,"v":0.004,"s":"OVI"},{"t":2.61,"v":0.01,"s":"OVI"},{"t":2.62,"v":0.013,"s":"OVI"},{"t":2.63,"v":0.015,"s":"OVI"},{"t":2.635,"v":0.0148,"s":"OVI"},{"t":2.64,"v":0.012,"s":"OVI"},{"t":2.648,"v":0.006,"s":"OVI"},{"t":2.655,"v":0.002,"s":"OVI"},{"t":2.665,"v":0,"s":"OVI"},{"t":2.68,"v":0.002,"s":"OVI"},{"t":2.69,"v":0.0005,"s":"OVI"},{"t":2.7,"v":0.002,"s":"OVI"},{"t":2.715,"v":0.0008,"s":"OVI"},{"t":2.73,"v":0.003,"s":"OVI"},{"t":2.74,"v":0.001,"s":"OVI"},{"t":2.76,"v":0.002,"s":"OVI"},{"t":2.78,"v":0.0005,"s":"OVI"},{"t":2.8,"v":0.002,"s":"OVI"},{"t":2.82,"v":0.001,"s":"OVI"},{"t":2.84,"v":0.003,"s":"OVI"},{"t":2.85,"v":0.0005,"s":"OVI"},{"t":2.87,"v":0.002,"s":"OVI"},{"t":2.89,"v":0.001,"s":"OVI"},{"t":2.91,"v":0.0025,"s":"OVI"},{"t":2.93,"v":0.001,"s":"OVI"},{"t":2.95,"v":0.003,"s":"OVI"},{"t":2.97,"v":0.001,"s":"OVI"},{"t":2.99,"v":0.0025,"s":"OVI"},{"t":3.01,"v":0.0005,"s":"OVI"},{"t":3.03,"v":0.002,"s":"OVI"},{"t":3.05,"v":0.0015,"s":"OVI"},{"t":3.07,"v":0.0025,"s":"OVI"},{"t":3.09,"v":0.001,"s":"OVI"},{"t":3.11,"v":0.002,"s":"OVI"},{"t":3.13,"v":0.0008,"s":"OVI"},{"t":3.15,"v":0.003,"s":"OVI"},{"t":3.175,"v":0.001,"s":"OVI"}
    ],
    "p7": [
      {"t":2.5,"v":2.95e-5,"s":"p"},{"t":2.57,"v":2.95e-5,"s":"p"},{"t":2.575,"v":2.9e-5,"s":"p"},{"t":2.58,"v":2.7e-5,"s":"p"},{"t":2.59,"v":2.2e-5,"s":"p"},{"t":2.6,"v":1.7e-5,"s":"p"},{"t":2.61,"v":1.25e-5,"s":"p"},{"t":2.62,"v":9.2e-6,"s":"p"},{"t":2.63,"v":7e-6,"s":"p"},{"t":2.64,"v":5.6e-6,"s":"p"},{"t":2.65,"v":4.7e-6,"s":"p"},{"t":2.66,"v":4.1e-6,"s":"p"},{"t":2.67,"v":3.6e-6,"s":"p"},{"t":2.68,"v":3.3e-6,"s":"p"},{"t":2.69,"v":3.1e-6,"s":"p"},{"t":2.7,"v":2.95e-6,"s":"p"},{"t":2.72,"v":2.85e-6,"s":"p"},{"t":2.74,"v":2.8e-6,"s":"p"},{"t":2.76,"v":2.8e-6,"s":"p"},{"t":2.78,"v":2.85e-6,"s":"p"},{"t":2.8,"v":2.95e-6,"s":"p"},{"t":2.82,"v":3.1e-6,"s":"p"},{"t":2.84,"v":3.3e-6,"s":"p"},{"t":2.86,"v":3.45e-6,"s":"p"},{"t":2.88,"v":3.6e-6,"s":"p"},{"t":2.9,"v":3.7e-6,"s":"p"},{"t":2.92,"v":3.8e-6,"s":"p"},{"t":2.94,"v":3.9e-6,"s":"p"},{"t":2.96,"v":3.95e-6,"s":"p"},{"t":2.98,"v":4.0e-6,"s":"p"},{"t":3.0,"v":4.05e-6,"s":"p"},{"t":3.02,"v":4.1e-6,"s":"p"},{"t":3.04,"v":4.15e-6,"s":"p"},{"t":3.06,"v":4.2e-6,"s":"p"},{"t":3.08,"v":4.25e-6,"s":"p"},{"t":3.1,"v":4.3e-6,"s":"p"},{"t":3.12,"v":4.35e-6,"s":"p"},{"t":3.14,"v":4.4e-6,"s":"p"},{"t":3.16,"v":4.45e-6,"s":"p"},{"t":3.175,"v":4.5e-6,"s":"p"}
    ]
  },
  "bounds": "flush",
  "spacing": 0,
  "resolve": {"scale": {"color": "independent"}, "legend": {"color": "independent"}},
  "vconcat": [
    {
      "width": 405, "height": 95,
      "data": {"name": "p1"},
      "layer": [
        {"mark": {"type": "line", "strokeWidth": 2.5, "clip": true},
         "encoding": {
           "x": {"field": "t", "type": "quantitative", "scale": {"domain": [2.5, 3.175], "nice": false, "zero": false},
                 "axis": {"orient": "bottom", "title": null, "labels": false, "values": [2.5,2.52,2.54,2.56,2.58,2.6,2.62,2.64,2.66,2.68,2.7,2.72,2.74,2.76,2.78,2.8,2.82,2.84,2.86,2.88,2.9,2.92,2.94,2.96,2.98,3.0,3.02,3.04,3.06,3.08,3.1,3.12,3.14,3.16],
                          "tickSize": {"condition": {"test": "abs(datum.value*10 - round(datum.value*10)) < 0.001", "value": -7}, "value": -4}}},
           "y": {"field": "v", "type": "quantitative", "scale": {"domain": [0, 0.117], "nice": false},
                 "axis": {"orient": "left", "values": [0, 0.05, 0.1], "tickSize": -7, "labelPadding": 10, "title": "P (MW)", "titlePadding": 12, "titleX": -90, "titleY": 47, "titleAngle": -90, "titleBaseline": "middle", "titleAlign": "center"}},
           "color": {"field": "s", "type": "nominal", "scale": {"domain": ["U", "L"], "range": ["#ff1414", "#3a80f5"]},
                     "legend": {"orient": "none", "legendX": 207, "legendY": 50, "direction": "horizontal", "title": null, "symbolType": "stroke", "symbolSize": 1156, "symbolStrokeWidth": 2.5, "labelFontSize": 26, "labelOffset": 3, "columnPadding": 14, "padding": 5, "strokeColor": "#444", "fillColor": "white",
                                "encode": {"labels": {"update": {"fill": [{"test": "datum.value === 'U'", "value": "#ff1414"}, {"value": "#3a80f5"}]}}}}}
         }},
        {"mark": {"type": "point", "opacity": 0},
         "encoding": {
           "x": {"field": "t", "type": "quantitative", "axis": {"orient": "top", "title": null, "labels": false, "values": [2.5,2.52,2.54,2.56,2.58,2.6,2.62,2.64,2.66,2.68,2.7,2.72,2.74,2.76,2.78,2.8,2.82,2.84,2.86,2.88,2.9,2.92,2.94,2.96,2.98,3.0,3.02,3.04,3.06,3.08,3.1,3.12,3.14,3.16],
                 "tickSize": {"condition": {"test": "abs(datum.value*10 - round(datum.value*10)) < 0.001", "value": -7}, "value": -4}}},
           "y": {"field": "v", "type": "quantitative", "axis": {"orient": "right", "values": [0, 0.05, 0.1], "tickSize": -7, "labels": false, "title": null}}
         }}
      ],
      "resolve": {"axis": {"x": "independent", "y": "independent"}}
    },
    {
      "width": 405, "height": 95,
      "data": {"name": "p2"},
      "layer": [
        {"mark": {"type": "line", "strokeWidth": 2.5, "clip": true},
         "encoding": {
           "x": {"field": "t", "type": "quantitative", "scale": {"domain": [2.5, 3.175], "nice": false, "zero": false},
                 "axis": {"orient": "bottom", "title": null, "labels": false, "values": [2.5,2.52,2.54,2.56,2.58,2.6,2.62,2.64,2.66,2.68,2.7,2.72,2.74,2.76,2.78,2.8,2.82,2.84,2.86,2.88,2.9,2.92,2.94,2.96,2.98,3.0,3.02,3.04,3.06,3.08,3.1,3.12,3.14,3.16],
                          "tickSize": {"condition": {"test": "abs(datum.value*10 - round(datum.value*10)) < 0.001", "value": -7}, "value": -4}}},
           "y": {"field": "v", "type": "quantitative", "scale": {"domain": [0, 17.8], "nice": false},
                 "axis": {"orient": "left", "values": [0, 5, 10, 15], "tickSize": -7, "labelPadding": 10, "title": "Vₘₐₓ(kVₚ)", "titleX": -85, "titleY": 47, "titleAngle": -90, "titleBaseline": "middle", "titleAlign": "center"}},
           "color": {"field": "s", "type": "nominal", "scale": {"domain": ["U", "L"], "range": ["#ff1414", "#3a80f5"]}, "legend": null}
         }},
        {"mark": {"type": "point", "opacity": 0},
         "encoding": {
           "x": {"field": "t", "type": "quantitative", "axis": {"orient": "top", "title": null, "labels": false, "values": [2.5,2.52,2.54,2.56,2.58,2.6,2.62,2.64,2.66,2.68,2.7,2.72,2.74,2.76,2.78,2.8,2.82,2.84,2.86,2.88,2.9,2.92,2.94,2.96,2.98,3.0,3.02,3.04,3.06,3.08,3.1,3.12,3.14,3.16],
                 "tickSize": {"condition": {"test": "abs(datum.value*10 - round(datum.value*10)) < 0.001", "value": -7}, "value": -4}}},
           "y": {"field": "v", "type": "quantitative", "axis": {"orient": "right", "values": [0, 5, 10, 15], "tickSize": -7, "labels": false, "title": null}}
         }}
      ],
      "resolve": {"axis": {"x": "independent", "y": "independent"}}
    },
    {
      "width": 405, "height": 95,
      "data": {"name": "p3"},
      "layer": [
        {"mark": {"type": "line", "strokeWidth": 2.5, "clip": true},
         "encoding": {
           "x": {"field": "t", "type": "quantitative", "scale": {"domain": [2.5, 3.175], "nice": false, "zero": false},
                 "axis": {"orient": "bottom", "title": null, "labels": false, "values": [2.5,2.52,2.54,2.56,2.58,2.6,2.62,2.64,2.66,2.68,2.7,2.72,2.74,2.76,2.78,2.8,2.82,2.84,2.86,2.88,2.9,2.92,2.94,2.96,2.98,3.0,3.02,3.04,3.06,3.08,3.1,3.12,3.14,3.16],
                          "tickSize": {"condition": {"test": "abs(datum.value*10 - round(datum.value*10)) < 0.001", "value": -7}, "value": -4}}},
           "y": {"field": "v", "type": "quantitative", "scale": {"domain": [0, 7.3], "nice": false},
                 "axis": {"orient": "left", "values": [0, 2, 4, 6], "tickSize": -7, "labelPadding": 10, "title": "R (Ω)", "titleX": -75, "titleY": 47, "titleAngle": -90, "titleBaseline": "middle", "titleAlign": "center"}},
           "color": {"field": "s", "type": "nominal", "scale": {"domain": ["U", "L"], "range": ["#ff1414", "#3a80f5"]}, "legend": null}
         }},
        {"mark": {"type": "point", "opacity": 0},
         "encoding": {
           "x": {"field": "t", "type": "quantitative", "axis": {"orient": "top", "title": null, "labels": false, "values": [2.5,2.52,2.54,2.56,2.58,2.6,2.62,2.64,2.66,2.68,2.7,2.72,2.74,2.76,2.78,2.8,2.82,2.84,2.86,2.88,2.9,2.92,2.94,2.96,2.98,3.0,3.02,3.04,3.06,3.08,3.1,3.12,3.14,3.16],
                 "tickSize": {"condition": {"test": "abs(datum.value*10 - round(datum.value*10)) < 0.001", "value": -7}, "value": -4}}},
           "y": {"field": "v", "type": "quantitative", "axis": {"orient": "right", "values": [0, 2, 4, 6], "tickSize": -7, "labels": false, "title": null}}
         }}
      ],
      "resolve": {"axis": {"x": "independent", "y": "independent"}}
    },
    {
      "width": 405, "height": 96,
      "data": {"name": "p4"},
      "layer": [
        {"mark": {"type": "line", "strokeWidth": 2.5, "clip": true},
         "encoding": {
           "x": {"field": "t", "type": "quantitative", "scale": {"domain": [2.5, 3.175], "nice": false, "zero": false},
                 "axis": {"orient": "bottom", "title": null, "labels": false, "values": [2.5,2.52,2.54,2.56,2.58,2.6,2.62,2.64,2.66,2.68,2.7,2.72,2.74,2.76,2.78,2.8,2.82,2.84,2.86,2.88,2.9,2.92,2.94,2.96,2.98,3.0,3.02,3.04,3.06,3.08,3.1,3.12,3.14,3.16],
                          "tickSize": {"condition": {"test": "abs(datum.value*10 - round(datum.value*10)) < 0.001", "value": -7}, "value": -4}}},
           "y": {"field": "v", "type": "quantitative", "scale": {"domain": [0, 1.2], "nice": false},
                 "axis": {"orient": "left", "values": [0, 0.5, 1], "tickSize": -7, "labelPadding": 10, "title": ["n̄ₑ", "(x10¹⁸m⁻³)"], "titleX": -100, "titleY": 48, "titleAngle": -90, "titleBaseline": "middle", "titleAlign": "center", "titleLineHeight": 24}},
           "color": {"field": "s", "type": "nominal", "scale": {"domain": ["ne"], "range": ["black"]}, "legend": null}
         }},
        {"mark": {"type": "point", "opacity": 0},
         "encoding": {
           "x": {"field": "t", "type": "quantitative", "axis": {"orient": "top", "title": null, "labels": false, "values": [2.5,2.52,2.54,2.56,2.58,2.6,2.62,2.64,2.66,2.68,2.7,2.72,2.74,2.76,2.78,2.8,2.82,2.84,2.86,2.88,2.9,2.92,2.94,2.96,2.98,3.0,3.02,3.04,3.06,3.08,3.1,3.12,3.14,3.16],
                 "tickSize": {"condition": {"test": "abs(datum.value*10 - round(datum.value*10)) < 0.001", "value": -7}, "value": -4}}},
           "y": {"field": "v", "type": "quantitative", "axis": {"orient": "right", "values": [0, 0.5, 1], "tickSize": -7, "labels": false, "title": null}}
         }}
      ],
      "resolve": {"axis": {"x": "independent", "y": "independent"}}
    },
    {
      "width": 405, "height": 95,
      "data": {"name": "p5"},
      "layer": [
        {"mark": {"type": "line", "strokeWidth": 2.5, "clip": true},
         "encoding": {
           "x": {"field": "t", "type": "quantitative", "scale": {"domain": [2.5, 3.175], "nice": false, "zero": false},
                 "axis": {"orient": "bottom", "title": null, "labels": false, "values": [2.5,2.52,2.54,2.56,2.58,2.6,2.62,2.64,2.66,2.68,2.7,2.72,2.74,2.76,2.78,2.8,2.82,2.84,2.86,2.88,2.9,2.92,2.94,2.96,2.98,3.0,3.02,3.04,3.06,3.08,3.1,3.12,3.14,3.16],
                          "tickSize": {"condition": {"test": "abs(datum.value*10 - round(datum.value*10)) < 0.001", "value": -7}, "value": -4}}},
           "y": {"field": "v", "type": "quantitative", "scale": {"domain": [0, 0.035], "nice": false},
                 "axis": {"orient": "left", "values": [0, 0.01, 0.02, 0.03], "tickSize": -7, "labelPadding": 10, "title": "(a.u.)", "titleX": -75, "titleY": 90, "titleAngle": -90, "titleBaseline": "middle", "titleAlign": "left"}},
           "color": {"field": "s", "type": "nominal", "scale": {"domain": ["Hα", "HeⅠ", "HeⅡ"], "range": ["#1e8c1e", "#1414d2", "#ff1e1e"]},
                     "legend": {"orient": "none", "legendX": 14, "legendY": 8, "direction": "horizontal", "title": null, "symbolType": "stroke", "symbolSize": 1156, "symbolStrokeWidth": 2.5, "labelFontSize": 26, "labelOffset": 3, "columnPadding": 20, "padding": 5, "strokeColor": "#444", "fillColor": "white",
                                "encode": {"labels": {"update": {"fill": [{"test": "datum.value === 'Hα'", "value": "#1e8c1e"}, {"test": "datum.value === 'HeⅠ'", "value": "#1414d2"}, {"value": "#ff1e1e"}]}}}}}
         }},
        {"mark": {"type": "point", "opacity": 0},
         "encoding": {
           "x": {"field": "t", "type": "quantitative", "axis": {"orient": "top", "title": null, "labels": false, "values": [2.5,2.52,2.54,2.56,2.58,2.6,2.62,2.64,2.66,2.68,2.7,2.72,2.74,2.76,2.78,2.8,2.82,2.84,2.86,2.88,2.9,2.92,2.94,2.96,2.98,3.0,3.02,3.04,3.06,3.08,3.1,3.12,3.14,3.16],
                 "tickSize": {"condition": {"test": "abs(datum.value*10 - round(datum.value*10)) < 0.001", "value": -7}, "value": -4}}},
           "y": {"field": "v", "type": "quantitative", "axis": {"orient": "right", "values": [0, 0.01, 0.02, 0.03], "tickSize": -7, "labels": false, "title": null}}
         }}
      ],
      "resolve": {"axis": {"x": "independent", "y": "independent"}}
    },
    {
      "width": 405, "height": 96,
      "data": {"name": "p6"},
      "layer": [
        {"mark": {"type": "line", "strokeWidth": 2.5, "clip": true},
         "encoding": {
           "x": {"field": "t", "type": "quantitative", "scale": {"domain": [2.5, 3.175], "nice": false, "zero": false},
                 "axis": {"orient": "bottom", "title": null, "labels": false, "values": [2.5,2.52,2.54,2.56,2.58,2.6,2.62,2.64,2.66,2.68,2.7,2.72,2.74,2.76,2.78,2.8,2.82,2.84,2.86,2.88,2.9,2.92,2.94,2.96,2.98,3.0,3.02,3.04,3.06,3.08,3.1,3.12,3.14,3.16],
                          "tickSize": {"condition": {"test": "abs(datum.value*10 - round(datum.value*10)) < 0.001", "value": -7}, "value": -4}}},
           "y": {"field": "v", "type": "quantitative", "scale": {"domain": [0, 0.07], "nice": false},
                 "axis": {"orient": "left", "values": [0, 0.02, 0.04, 0.06], "tickSize": -7, "labelPadding": 10, "title": "Intensity", "titleX": -75, "titleY": 3, "titleAngle": -90, "titleBaseline": "middle", "titleAlign": "right"}},
           "color": {"field": "s", "type": "nominal", "scale": {"domain": ["CIII", "OV", "OVI"], "range": ["#1e8c1e", "#1414d2", "#ff1e1e"]},
                     "legend": {"orient": "none", "legendX": 100, "legendY": 17, "direction": "horizontal", "title": null, "symbolType": "stroke", "symbolSize": 1156, "symbolStrokeWidth": 2.5, "labelFontSize": 26, "labelOffset": 3, "columnPadding": 10, "padding": 5, "strokeColor": "#444", "fillColor": "white",
                                "encode": {"labels": {"update": {"fill": [{"test": "datum.value === 'CIII'", "value": "#1e8c1e"}, {"test": "datum.value === 'OV'", "value": "#1414d2"}, {"value": "#ff1e1e"}]}}}}}
         }},
        {"mark": {"type": "point", "opacity": 0},
         "encoding": {
           "x": {"field": "t", "type": "quantitative", "axis": {"orient": "top", "title": null, "labels": false, "values": [2.5,2.52,2.54,2.56,2.58,2.6,2.62,2.64,2.66,2.68,2.7,2.72,2.74,2.76,2.78,2.8,2.82,2.84,2.86,2.88,2.9,2.92,2.94,2.96,2.98,3.0,3.02,3.04,3.06,3.08,3.1,3.12,3.14,3.16],
                 "tickSize": {"condition": {"test": "abs(datum.value*10 - round(datum.value*10)) < 0.001", "value": -7}, "value": -4}}},
           "y": {"field": "v", "type": "quantitative", "axis": {"orient": "right", "values": [0, 0.02, 0.04, 0.06], "tickSize": -7, "labels": false, "title": null}}
         }}
      ],
      "resolve": {"axis": {"x": "independent", "y": "independent"}}
    },
    {
      "width": 405, "height": 93,
      "data": {"name": "p7"},
      "layer": [
        {"mark": {"type": "line", "strokeWidth": 2.5, "clip": true, "color": "black"},
         "encoding": {
           "x": {"field": "t", "type": "quantitative", "scale": {"domain": [2.5, 3.175], "nice": false, "zero": false},
                 "axis": {"orient": "bottom", "title": "Time (s)", "titlePadding": 2, "labelPadding": 4, "labelFontSize": 23, "values": [2.5,2.52,2.54,2.56,2.58,2.6,2.62,2.64,2.66,2.68,2.7,2.72,2.74,2.76,2.78,2.8,2.82,2.84,2.86,2.88,2.9,2.92,2.94,2.96,2.98,3.0,3.02,3.04,3.06,3.08,3.1,3.12,3.14,3.16],
                          "labelExpr": "abs(datum.value*10 - round(datum.value*10)) < 0.001 ? format(datum.value, '.1~f') : ''",
                          "tickSize": {"condition": {"test": "abs(datum.value*10 - round(datum.value*10)) < 0.001", "value": -7}, "value": -4}}},
           "y": {"field": "v", "type": "quantitative", "scale": {"type": "log", "domain": [1e-6, 8.1e-5], "nice": false},
                 "axis": {"orient": "left", "values": [1e-6, 1e-5], "labelExpr": "datum.value < 5e-6 ? '10⁻⁶' : '10⁻⁵'", "tickSize": -7, "labelPadding": 10, "title": "p (Pa)", "titleX": -73, "titleY": 46, "titleAngle": -90, "titleBaseline": "middle", "titleAlign": "center"}}
         }},
        {"mark": {"type": "point", "opacity": 0},
         "encoding": {
           "x": {"field": "t", "type": "quantitative", "axis": {"orient": "top", "title": null, "labels": false, "values": [2.5,2.52,2.54,2.56,2.58,2.6,2.62,2.64,2.66,2.68,2.7,2.72,2.74,2.76,2.78,2.8,2.82,2.84,2.86,2.88,2.9,2.92,2.94,2.96,2.98,3.0,3.02,3.04,3.06,3.08,3.1,3.12,3.14,3.16],
                 "tickSize": {"condition": {"test": "abs(datum.value*10 - round(datum.value*10)) < 0.001", "value": -7}, "value": -4}}},
           "y": {"field": "v", "type": "quantitative", "axis": {"orient": "right", "values": [1e-6, 1e-5], "tickSize": -7, "labels": false, "title": null}}
         }}
      ],
      "resolve": {"axis": {"x": "independent", "y": "independent"}}
    }
  ]
}
